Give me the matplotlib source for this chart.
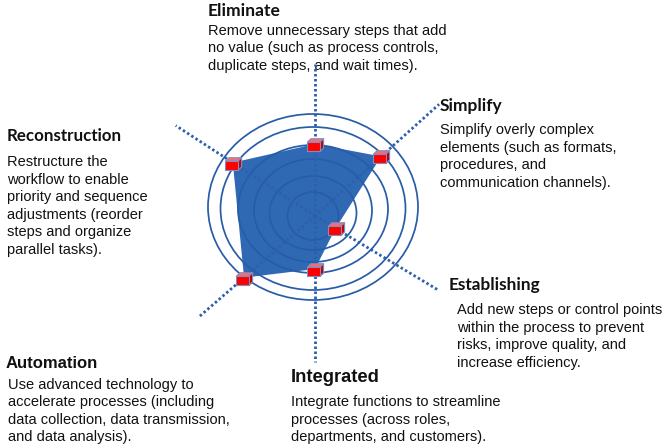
import numpy as np
import matplotlib
matplotlib.use("Agg")
import matplotlib.pyplot as plt
from matplotlib.patches import Ellipse
from matplotlib.path import Path

# ---------------- data ----------------
categories = ["Eliminate", "Simplify", "Establishing", "Integrated", "Automation", "Reconstruction"]
values = [3.6, 4.45, 1.2, 2.65, 4.7, 4.9]          # score on each dimension
axis_angles = [0, 48, 121, 180, 229, 303]           # spoke directions (deg, clockwise from top)
spoke_lengths = [152, 167, 143, 146, 154, 166]      # px

descriptions = [
    ["Remove unnecessary steps that add", "no value (such as process controls,", "duplicate steps, and wait times)."],
    ["Simplify overly complex", "elements (such as formats,", "procedures, and", "communication channels)."],
    ["Add new steps or control points", "within the process to prevent", "risks, improve quality, and", "increase efficiency."],
    ["Integrate functions to streamline", "processes (across roles,", "departments, and customers)."],
    ["Use advanced technology to", "accelerate processes (including", "data collection, data transmission,", "and data analysis)."],
    ["Restructure the", "workflow to enable", "priority and sequence", "adjustments (reorder", "steps and organize", "parallel tasks)."],
]

# ---------------- layout ----------------
W, H = 665, 448
fig = plt.figure(figsize=(W / 100, H / 100), dpi=100)
ax = fig.add_axes([0, 0, 1, 1])
ax.set_xlim(0, W)
ax.set_ylim(H, 0)
ax.axis("off")

cx, cy = 315, 216
unit = 20.0

# ring ellipses (rx, ry, center y)
ring_rx = [105, 92.5, 75, 59, 43.5, 25.5]
ring_ry = [93, 81.5, 64, 51.5, 37, 24]
ring_cy = [207, 208.5, 209, 210.5, 213, 216]
ring_cx = 313

blue_fill = "#2f69b3"
ring_col = "#285ca8"
spoke_col = "#2c5fad"

ang = np.deg2rad(axis_angles)
vals = np.array(values)
px = cx + vals * unit * np.sin(ang)
py = cy - vals * unit * np.cos(ang)

# filled area
ax.fill(np.r_[px, px[0]], np.r_[py, py[0]], color=blue_fill, zorder=2, lw=0)

# rings
for rx, ry, ycen in zip(ring_rx, ring_ry, ring_cy):
    ax.add_patch(Ellipse((ring_cx, ycen), 2 * rx, 2 * ry, fill=False,
                         ec=ring_col, lw=1.25, zorder=3))

# dotted spokes
for a, L in zip(ang, spoke_lengths):
    ax.plot([cx, cx + L * np.sin(a)], [cy, cy - L * np.cos(a)],
            color=spoke_col, lw=2.0, linestyle=(0, (0.9, 0.9)),
            dash_capstyle="butt", zorder=4)

# cube-like markers (paths share a bounding frame so they scale alike)
frame = [(-8, -8), (8, 8)]
def face(poly):
    verts = frame + poly + [poly[0]]
    codes = [Path.MOVETO, Path.MOVETO, Path.MOVETO] + [Path.LINETO] * (len(poly) - 1) + [Path.CLOSEPOLY]
    return Path(verts, codes)

front = face([(-7, -6), (4, -6), (4, 2), (-7, 2)])
top = face([(-7, 2), (4, 2), (7, 5), (-4, 5)])
side = face([(4, -6), (7, -3), (7, 5), (4, 2)])
ms = 18.5 * 0.72
for path, col in [(top, "#ff6b6b"), (side, "#c40000"), (front, "#ff0000")]:
    ax.plot(px, py, linestyle="none", marker=path, markersize=ms,
            markerfacecolor=col, markeredgecolor="#7d8ec4", markeredgewidth=0.8, zorder=5)

# ---------------- texts ----------------
fig.canvas.draw()
renderer = fig.canvas.get_renderer()

def fitted(x, y, s, width, family, weight="bold"):
    t = ax.text(x, y, s, fontsize=12, family=family, weight=weight,
                va="center", ha="left", color="#111111")
    bb = t.get_window_extent(renderer)
    t.set_fontsize(12 * width / bb.width)
    return t

# title specs: (x, y, width, family)
title_specs = {
    "Eliminate": (208, 11, 72, ["Lato", "DejaVu Sans"]),
    "Simplify": (440, 106, 62, ["Lato", "DejaVu Sans"]),
    "Establishing": (449, 285, 91, ["Lato", "DejaVu Sans"]),
    "Integrated": (291, 377, 89, ["Liberation Sans", "DejaVu Sans"]),
    "Automation": (6, 363, 92, ["Liberation Sans", "DejaVu Sans"]),
    "Reconstruction": (7, 136, 114, ["Lato", "DejaVu Sans"]),
}
# body specs: (x, first-line y)
body_specs = {
    "Eliminate": (208, 30.5),
    "Simplify": (440, 130),
    "Establishing": (457, 310),
    "Integrated": (291, 402),
    "Automation": (8, 384.5),
    "Reconstruction": (7, 162),
}
line_step = 17.6

for cat, lines in zip(categories, descriptions):
    tx, ty, tw, fam = title_specs[cat]
    fitted(tx, ty, cat, tw, fam)
    bx, by = body_specs[cat]
    for i, ln in enumerate(lines):
        ax.text(bx, by + i * line_step, ln, fontsize=10.5,
                family=["Liberation Sans", "DejaVu Sans"],
                va="center", ha="left", color="#111111")

fig.savefig("out.png", dpi=100)
